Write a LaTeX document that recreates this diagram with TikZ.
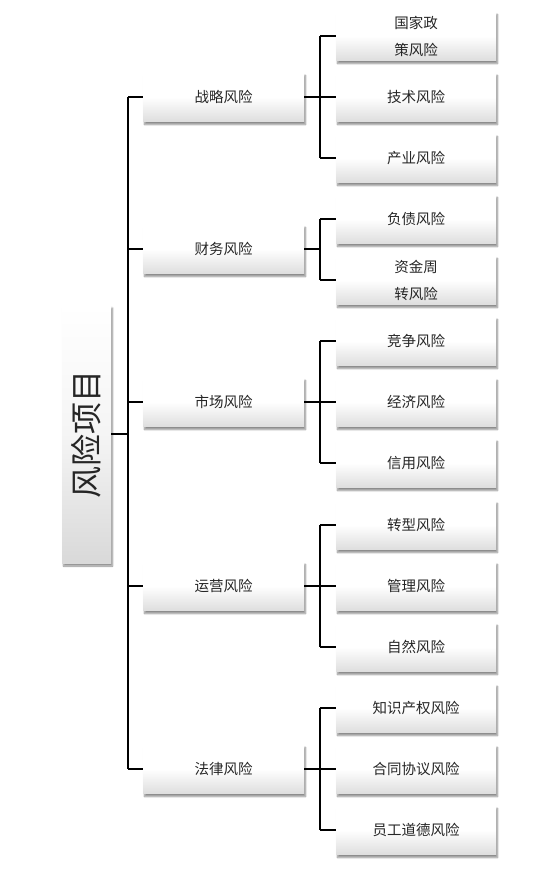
\documentclass[tikz,border=0pt]{standalone}
\usepackage{fontspec}
\newfontfamily\cjk{Noto Sans CJK SC}
\usetikzlibrary{shadows.blur}
\begin{document}
\begin{tikzpicture}[x=1pt,y=-1pt,
  boxbase/.style={draw=none, top color=white, bottom color=black!13, middle color=white,
    blur shadow={shadow xshift=1.5pt, shadow yshift=-3pt, shadow blur steps=6, shadow opacity=45},
    text=black!85, font=\cjk\fontsize{14.5}{27}\selectfont, align=center, inner sep=0pt},
  lvl/.style={boxbase, minimum width=161pt, minimum height=49pt},
  leaf/.style={boxbase, minimum width=160pt, minimum height=49pt},
  rootbox/.style={draw=none, top color=white, bottom color=black!15, middle color=black!4,
    blur shadow={shadow xshift=1.5pt, shadow yshift=-3pt, shadow blur steps=6, shadow opacity=45},
    minimum width=49pt, minimum height=258pt, inner sep=0pt},
  conn/.style={draw=black, line width=1.5pt}
]
\useasboundingbox (0,0) rectangle (539,871);
% root
\node[rootbox] (root) at (86.5,434) {};
\node[rotate=90, text=black!85, font=\cjk\fontsize{32}{32}\selectfont, inner sep=0pt] (roottext) at (86.5,434) {风险项目};
% level 1
\node[lvl] (a) at (223.5,97) {战略风险};
\node[lvl] (b) at (223.5,249) {财务风险};
\node[lvl] (c) at (223.5,402) {市场风险};
\node[lvl] (d) at (223.5,586) {运营风险};
\node[lvl] (e) at (223.5,769) {法律风险};
% leaves
\node[leaf] (a1) at (416,36) {国家政\\策风险};
\node[leaf] (a2) at (416,97) {技术风险};
\node[leaf] (a3) at (416,158) {产业风险};
\node[leaf] (b1) at (416,219) {负债风险};
\node[leaf] (b2) at (416,280) {资金周\\转风险};
\node[leaf] (c1) at (416,341) {竞争风险};
\node[leaf] (c2) at (416,402) {经济风险};
\node[leaf] (c3) at (416,463) {信用风险};
\node[leaf] (d1) at (416,525) {转型风险};
\node[leaf] (d2) at (416,586) {管理风险};
\node[leaf] (d3) at (416,647) {自然风险};
\node[leaf] (e1) at (416,708) {知识产权风险};
\node[leaf] (e2) at (416,769) {合同协议风险};
\node[leaf] (e3) at (416,830) {员工道德风险};
% root connectors
\draw[conn] (root.east) -- ++(17,0) coordinate (tr);
\draw[conn] (tr |- a.west) -- (tr |- e.west);
\foreach \n in {a,b,c,d,e} \draw[conn] (tr |- \n.west) -- (\n.west);
% level1 to leaves
\foreach \p/\ls/\f/\l in {a/{a1,a2,a3}/a1/a3, b/{b1,b2}/b1/b2, c/{c1,c2,c3}/c1/c3, d/{d1,d2,d3}/d1/d3, e/{e1,e2,e3}/e1/e3} {
  \draw[conn] (\p.east) -- ++(16,0) coordinate (j\p);
  \draw[conn] (j\p |- \f.west) -- (j\p |- \l.west);
  \foreach \x in \ls \draw[conn] (j\p |- \x.west) -- (\x.west);
}
\end{tikzpicture}
\end{document}
